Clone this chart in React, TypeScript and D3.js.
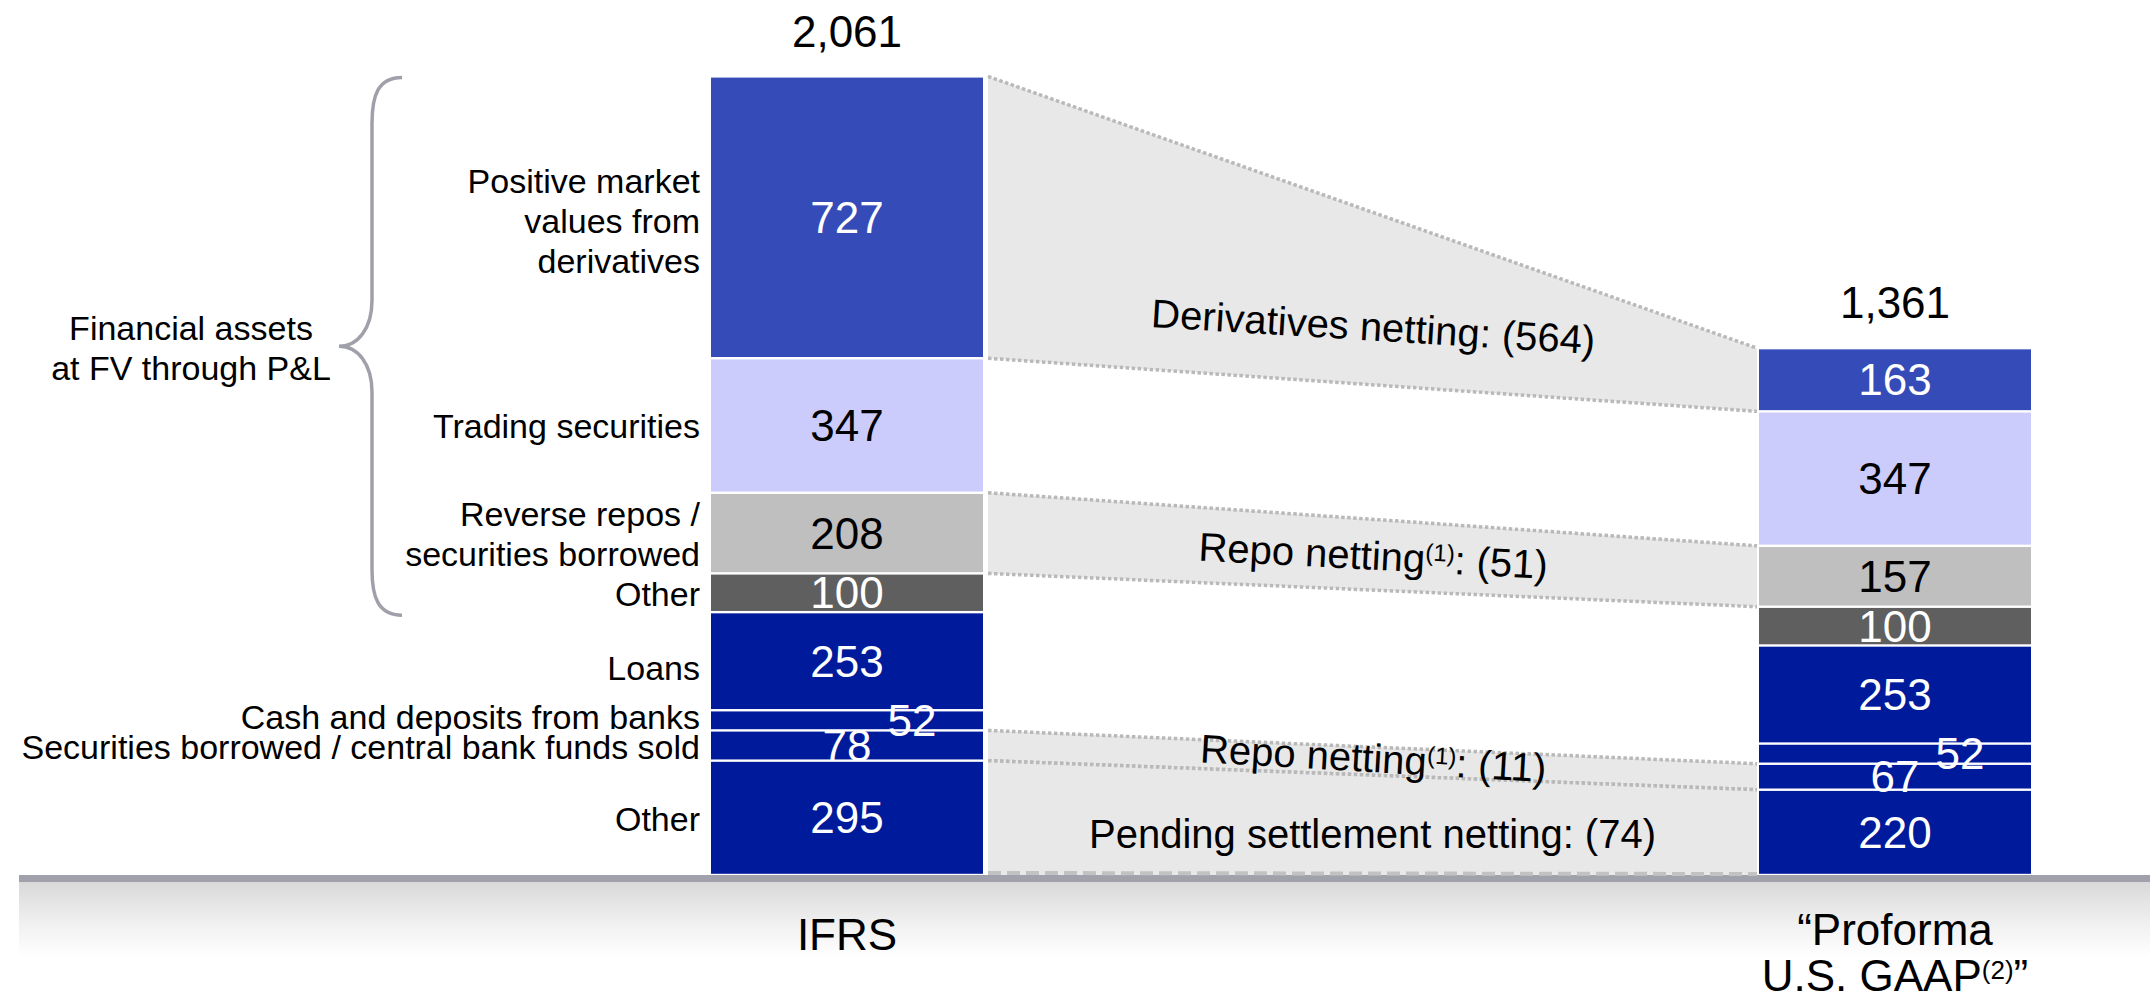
import React, { useEffect } from "react";
import * as d3 from "d3";

// ---------- data ----------
const columns = ["IFRS", "GAAP"];
const totals = [2061, 1361];
const segmentKeys = ["derivatives", "trading", "repos", "otherFv", "loans", "cash", "secBorrowed", "otherAm"];
const segmentLabels = [
  ["Positive market", "values from", "derivatives"],
  ["Trading securities"],
  ["Reverse repos /", "securities borrowed"],
  ["Other"],
  ["Loans"],
  ["Cash and deposits from banks"],
  ["Securities borrowed / central bank funds sold"],
  ["Other"],
];
const ifrsValues = [727, 347, 208, 100, 253, 52, 78, 295];
const gaapValues = [163, 347, 157, 100, 253, 52, 67, 220];
const nettingKeys = ["derivatives", "repos", "secBorrowed", "otherAm"];
const nettingTitles = ["Derivatives netting", "Repo netting", "Repo netting", "Pending settlement netting"];
const nettingNotes = ["", "(1)", "(1)", ""];
const nettingValues = [564, 51, 11, 74];
const groupLabel = ["Financial assets", "at FV through P&L"];
const groupKeys = ["derivatives", "otherFv"];

// ---------- styles ----------
const W = 2150;
const H = 1001;
const FONT = "'Liberation Sans', Arial, Helvetica, sans-serif";
const segmentColors = ["#344bb8", "#ccccfc", "#bfbfbf", "#5f5f5f", "#001a9c", "#001a9c", "#001a9c", "#001a9c"];
const valueColors = ["#ffffff", "#000000", "#000000", "#ffffff", "#ffffff", "#ffffff", "#ffffff", "#ffffff"];
const labelNudges = [3, 0, 0, 0, 6, -4, 0, 0];
const nettingAngles = [3.5, 3.0, 3.3, 0];
const nettingLabelOffsets = [42, 15, 11, 23];
const BAR_W = 272;

export default function App() {
  useEffect(() => {
    document.body.style.margin = "0";
  }, []);

  const yScale = d3.scaleLinear().domain([0, totals[0]]).range([875, 76]);
  const xScale = d3.scalePoint<string>().domain(columns).range([847, 1895]);

  const rows = [ifrsValues, gaapValues].map((vals) =>
    Object.fromEntries(segmentKeys.map((k, i) => [k, vals[i]]))
  );
  const stacked = d3.stack<any>().keys([...segmentKeys].reverse())(rows);
  const seg = (col: number, key: string) => {
    const s = stacked.find((t) => t.key === key)!;
    const [v0, v1] = s[col];
    return { top: yScale(v1), bottom: yScale(v0) };
  };

  const xIfrs = xScale("IFRS")!;
  const xGaap = xScale("GAAP")!;
  const bandL = xIfrs + BAR_W / 2 + 5;
  const bandR = xGaap - BAR_W / 2 - 2;

  // brace
  const gTop = seg(0, groupKeys[0]).top + 1;
  const gBot = seg(0, groupKeys[1]).bottom + 3;
  const tipY = (gTop + gBot) / 2;
  const bx = 372;
  const bEnd = 402;
  const bTip = 339;
  const bracePath = d3.path();
  bracePath.moveTo(bEnd, gTop);
  bracePath.bezierCurveTo(bx + 6, gTop, bx, gTop + 18, bx, gTop + 46);
  bracePath.lineTo(bx, tipY - 46);
  bracePath.bezierCurveTo(bx, tipY - 18, bx - 14, tipY, bTip, tipY);
  bracePath.bezierCurveTo(bx - 14, tipY, bx, tipY + 18, bx, tipY + 46);
  bracePath.lineTo(bx, gBot - 46);
  bracePath.bezierCurveTo(bx, gBot - 18, bx + 6, gBot, bEnd, gBot);

  const y0 = yScale(0);

  return (
    <svg
      width={W}
      height={H}
      viewBox={`0 0 ${W} ${H}`}
      style={{ position: "absolute", left: 0, top: 0, display: "block", background: "#fff" }}
      fontFamily={FONT}
    >
      <defs>
        <linearGradient id="floorGrad" x1="0" y1="0" x2="0" y2="1">
          <stop offset="0" stopColor="#d9d9d9" />
          <stop offset="0.55" stopColor="#f0f0f0" />
          <stop offset="1" stopColor="#ffffff" />
        </linearGradient>
      </defs>

      {/* floor */}
      <rect x={19} y={y0 + 7} width={W - 19} height={75} fill="url(#floorGrad)" />
      <rect x={19} y={y0} width={W - 19} height={7} fill="#a1a1ab" />

      {/* netting bands */}
      {nettingKeys.map((key, i) => {
        const l = seg(0, key);
        const r = seg(1, key);
        const pts: [number, number][] = [
          [bandL, l.top],
          [bandR, r.top],
          [bandR, r.bottom],
          [bandL, l.bottom],
        ];
        const isLast = i === nettingKeys.length - 1;
        return (
          <g key={key}>
            <polygon points={pts.map((p) => p.join(",")).join(" ")} fill="#e8e8e8" />
            <line x1={bandL} y1={l.top} x2={bandR} y2={r.top} stroke="#b9b9b9" strokeWidth={3.5} strokeDasharray="3.5 2.5" />
            {isLast ? (
              <line x1={bandL} y1={l.bottom - 2} x2={bandR} y2={r.bottom - 1} stroke="#c2c2c2" strokeWidth={4} strokeDasharray="13 6" />
            ) : (
              <line x1={bandL} y1={l.bottom} x2={bandR} y2={r.bottom} stroke="#b9b9b9" strokeWidth={3.5} strokeDasharray="3.5 2.5" />
            )}
          </g>
        );
      })}

      {/* netting labels */}
      {nettingKeys.map((key, i) => {
        const l = seg(0, key);
        const r = seg(1, key);
        const cx = (bandL + bandR) / 2;
        const mid = ((l.top + r.top) / 2 + (l.bottom + r.bottom) / 2) / 2;
        const by = mid + nettingLabelOffsets[i];
        const note = nettingNotes[i];
        return (
          <text
            key={"nl" + key}
            x={cx}
            y={by}
            textAnchor="middle"
            fontSize={40}
            fill="#000"
            transform={`rotate(${nettingAngles[i]} ${cx} ${by})`}
          >
            {nettingTitles[i]}
            {note ? (
              <tspan fontSize={24} dy={-12}>
                {note}
              </tspan>
            ) : null}
            <tspan dy={note ? 12 : 0}>{`: (${nettingValues[i]})`}</tspan>
          </text>
        );
      })}

      {/* bars */}
      {columns.map((col, ci) => {
        const cx = xScale(col)!;
        return (
          <g key={col}>
            {segmentKeys.map((key, si) => {
              const s = seg(ci, key);
              return (
                <rect
                  key={key}
                  x={cx - BAR_W / 2}
                  y={s.top + 1.2}
                  width={BAR_W}
                  height={Math.max(0, s.bottom - s.top - 2.4)}
                  fill={segmentColors[si]}
                />
              );
            })}
            {segmentKeys.map((key, si) => {
              const s = seg(ci, key);
              const v = ci === 0 ? ifrsValues[si] : gaapValues[si];
              const dx = key === "cash" ? 65 : 0;
              return (
                <text
                  key={"v" + key}
                  x={cx + dx}
                  y={(s.top + s.bottom) / 2 + 15.5}
                  textAnchor="middle"
                  fontSize={44}
                  fill={valueColors[si]}
                >
                  {v}
                </text>
              );
            })}
            <text x={cx} y={yScale(totals[ci]) - 29} textAnchor="middle" fontSize={44} fill="#000">
              {d3.format(",")(totals[ci])}
            </text>
          </g>
        );
      })}

      {/* left category labels */}
      {segmentKeys.map((key, si) => {
        const s = seg(0, key);
        const c = (s.top + s.bottom) / 2 + labelNudges[si];
        const lines = segmentLabels[si];
        const n = lines.length;
        return (
          <text key={"l" + key} textAnchor="end" fontSize={34} fill="#000">
            {lines.map((t, li) => (
              <tspan key={li} x={700} y={c + 13 + (li - (n - 1) / 2) * 40}>
                {t}
              </tspan>
            ))}
          </text>
        );
      })}

      {/* brace + group label */}
      <path d={bracePath.toString()} fill="none" stroke="#a0a0ab" strokeWidth={3.5} />
      <text textAnchor="middle" fontSize={34} fill="#000">
        <tspan x={191} y={tipY - 6}>{groupLabel[0]}</tspan>
        <tspan x={191} y={tipY + 34}>{groupLabel[1]}</tspan>
      </text>

      {/* column labels */}
      <text x={xIfrs} y={950} textAnchor="middle" fontSize={44} fill="#000">
        IFRS
      </text>
      <text textAnchor="middle" fontSize={44} fill="#000">
        <tspan x={xGaap} y={945}>“Proforma</tspan>
      </text>
      <text x={xGaap} y={991} textAnchor="middle" fontSize={44} fill="#000">
        U.S. GAAP
        <tspan fontSize={26} dy={-12}>(2)</tspan>
        <tspan dy={12}>”</tspan>
      </text>
    </svg>
  );
}
